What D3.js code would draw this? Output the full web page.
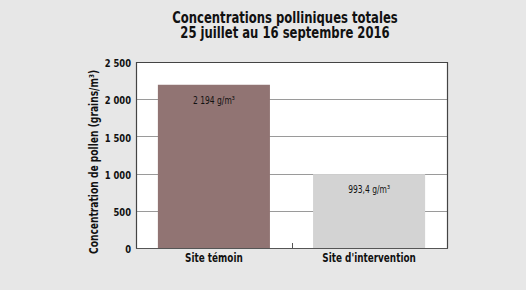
<!DOCTYPE html>
<html lang="fr">
<head>
<meta charset="utf-8">
<script src="https://d3js.org/d3.v7.min.js"></script>
<style>
  body { margin: 0; background: #e7e7e7; }
  text { font-family: "DejaVu Sans", sans-serif; fill: #111; }
</style>
</head>
<body>
<script>
var sites = ["Site témoin", "Site d'intervention"];
var concentrations = [2194, 993.4];
var barLabels = ["2 194 g/m³", "993,4 g/m³"];
var barColors = ["#917473", "#d3d3d3"];
var yTicks = [0, 500, 1000, 1500, 2000, 2500];
var titleLines = ["Concentrations polliniques totales", "25 juillet au 16 septembre 2016"];

var w = 526, h = 290,
    mLeft = 136, mRight = 447, mTop = 62, mBottom = 248;

var fmt = function(d) { return d3.format(",")(d).replace(/,/g, " "); };

// no condensed face installed, so squeeze the glyphs horizontally
function condense(sel, k) {
  sel.each(function() {
    var len = this.getComputedTextLength();
    d3.select(this).attr("textLength", len * k).attr("lengthAdjust", "spacingAndGlyphs");
  });
}

var svg = d3.select("body").append("svg")
    .attr("width", w).attr("height", h);

svg.append("rect").attr("width", w).attr("height", h).attr("fill", "#e7e7e7");

var x = d3.scaleBand().domain(sites).range([mLeft, mRight]).paddingInner(0.278).paddingOuter(0.141);
var y = d3.scaleLinear().domain([0, 2500]).range([mBottom, mTop]);

// plot area
svg.append("rect")
    .attr("x", mLeft).attr("y", mTop)
    .attr("width", mRight - mLeft).attr("height", mBottom - mTop)
    .attr("fill", "#fff");

// gridlines
svg.append("g").selectAll("line")
    .data(yTicks.slice(1, -1))
    .enter().append("line")
    .attr("x1", mLeft).attr("x2", mRight)
    .attr("y1", function(d) { return Math.round(y(d)) + 0.5; })
    .attr("y2", function(d) { return Math.round(y(d)) + 0.5; })
    .attr("stroke", "#9a9a9a").attr("stroke-width", 1);

// bars
svg.append("g").selectAll("rect")
    .data(concentrations)
    .enter().append("rect")
    .attr("x", function(d, i) { return x(sites[i]); })
    .attr("width", x.bandwidth())
    .attr("y", function(d) { return y(d); })
    .attr("height", function(d) { return mBottom - y(d); })
    .attr("fill", function(d, i) { return barColors[i]; });

// value labels
svg.append("g").selectAll("text")
    .data(concentrations)
    .enter().append("text")
    .attr("x", function(d, i) { return x(sites[i]) + x.bandwidth() / 2; })
    .attr("y", function(d) { return y(d) + 19; })
    .attr("text-anchor", "middle")
    .style("font-size", "10.5px")
    .text(function(d, i) { return barLabels[i]; })
    .call(condense, 0.72);

// frame
svg.append("path")
    .attr("d", "M" + (mLeft + 0.5) + "," + (mBottom + 0.5) + "V" + (mTop + 0.5) + "H" + (mRight + 0.5) + "V" + (mBottom + 0.5))
    .attr("fill", "none").attr("stroke", "#444").attr("stroke-width", 1.2);
svg.append("line")
    .attr("x1", mLeft).attr("x2", mRight + 1)
    .attr("y1", mBottom + 0.5).attr("y2", mBottom + 0.5)
    .attr("stroke", "#555").attr("stroke-width", 1);
// middle tick between categories
svg.append("line")
    .attr("x1", Math.round((mLeft + mRight) / 2) + 0.5).attr("x2", Math.round((mLeft + mRight) / 2) + 0.5)
    .attr("y1", mBottom - 5).attr("y2", mBottom)
    .attr("stroke", "#555");

// y axis
var yAxis = svg.append("g")
    .attr("transform", "translate(" + mLeft + ",0)")
    .call(d3.axisLeft(y).tickValues(yTicks).tickFormat(fmt).tickSize(0).tickPadding(5));
yAxis.attr("font-family", null).attr("font-size", null);
yAxis.select(".domain").remove();
yAxis.selectAll("text")
    .style("font-size", "10.5px").style("font-weight", "bold")
    .attr("dy", "0.45em")
    .attr("fill", "#111")
    .call(condense, 0.8);

// x axis labels
var xAxis = svg.append("g")
    .attr("transform", "translate(0," + mBottom + ")")
    .call(d3.axisBottom(x).tickSize(0).tickPadding(6));
xAxis.attr("font-family", null).attr("font-size", null);
xAxis.select(".domain").remove();
xAxis.selectAll("text")
    .style("font-size", "11.5px").style("font-weight", "bold")
    .attr("fill", "#111")
    .call(condense, 0.77);

// y title
svg.append("text")
    .attr("transform", "translate(98," + ((mTop + mBottom) / 2 + 7) + ") rotate(-90)")
    .attr("text-anchor", "middle")
    .style("font-size", "12px").style("font-weight", "bold")
    .text("Concentration de pollen (grains/m³)")
    .call(condense, 0.76);

// title
svg.append("g").selectAll("text")
    .data(titleLines)
    .enter().append("text")
    .attr("x", 285)
    .attr("y", function(d, i) { return 23 + i * 15; })
    .attr("text-anchor", "middle")
    .style("font-size", "15.5px").style("font-weight", "bold")
    .text(function(d) { return d; })
    .call(condense, 0.75);
</script>
</body>
</html>
